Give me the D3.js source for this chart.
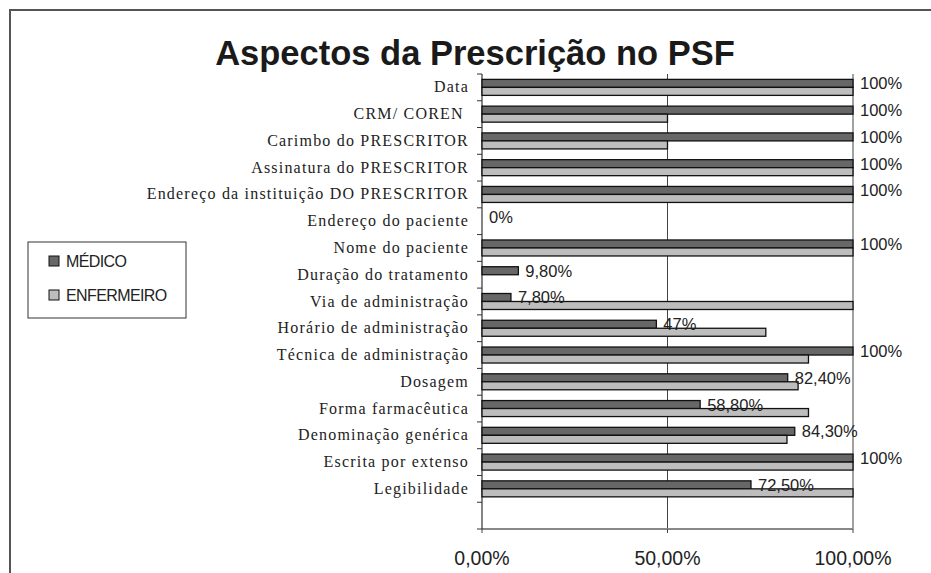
<!DOCTYPE html>
<html>
<head>
<meta charset="utf-8">
<script src="https://cdn.jsdelivr.net/npm/d3@7"></script>
<style>
  body { margin: 0; background: #fff; }
  .catLabel { font-family: "Liberation Serif", "Times New Roman", serif; font-size: 16px; letter-spacing: 1.2px; white-space: pre; fill: #222; }
  .valLabel { font-family: "Liberation Sans", Arial, sans-serif; font-size: 16.5px; fill: #222; }
  .xLabel { font-family: "Liberation Sans", Arial, sans-serif; font-size: 19.5px; fill: #222; }
  .legText { font-family: "Liberation Sans", Arial, sans-serif; font-size: 16px; letter-spacing: -0.6px; fill: #222; }
</style>
</head>
<body>
<div id="chart"></div>
<script>
// data (top to bottom)
var categories = [
  "Data", "CRM/ COREN ", "Carimbo do PRESCRITOR", "Assinatura do PRESCRITOR",
  "Endereço da instituição DO PRESCRITOR", "Endereço do paciente", "Nome do paciente",
  "Duração do tratamento", "Via de administração", "Horário de administração",
  "Técnica de administração", "Dosagem", "Forma farmacêutica",
  "Denominação genérica", "Escrita por extenso", "Legibilidade"
];
var series = ["MÉDICO", "ENFERMEIRO"];
var medico =     [100, 100, 100, 100, 100, 0, 100, 9.8, 7.8, 47, 100, 82.4, 58.8, 84.3, 100, 72.5];
var enfermeiro = [100, 50, 50, 100, 100, 0, 100, 0, 100, 76.5, 88, 85.2, 88, 82.2, 100, 100];
var xTicks = [0, 50, 100];

var width = 931;
var height = 573;

var svg = d3.select("#chart")
    .append("svg")
    .attr("width", width)
    .attr("height", height);

// outer frame
svg.append("rect")
    .attr("x", 10).attr("y", 10)
    .attr("width", width + 10).attr("height", height + 10)
    .attr("fill", "none")
    .attr("stroke", "#555")
    .attr("stroke-width", 2);

svg.append("text")
    .attr("x", 475).attr("y", 65)
    .attr("text-anchor", "middle")
    .style("font-family", '"Liberation Sans", Arial, sans-serif')
    .style("font-weight", "bold")
    .style("font-size", "34.5px")
    .style("fill", "#1a1a1a")
    .text("Aspectos da Prescrição no PSF");

var plotTop = 74;
var plotBottom = 529;
var slots = categories.length + 1;   // one empty slot under the last category
var step = (plotBottom - plotTop) / slots;

var x = d3.scaleLinear().domain([0, 100]).range([482, 853]);

var y = d3.scaleBand()
    .domain(categories)
    .range([plotTop, plotBottom - step])
    .padding(0);

var yInner = d3.scaleBand()
    .domain(series)
    .range([(step - 16) / 2, (step + 16) / 2]);

var colors = { "MÉDICO": "#676767", "ENFERMEIRO": "#bdbdbd" };

// vertical gridlines
svg.append("g").selectAll("line")
    .data(xTicks.slice(1))
    .join("line")
    .attr("x1", function(d) { return x(d); })
    .attr("x2", function(d) { return x(d); })
    .attr("y1", plotTop).attr("y2", plotBottom)
    .attr("stroke", "#444").attr("stroke-width", 1);

// x axis line + ticks
svg.append("line")
    .attr("x1", x(0)).attr("x2", x(100))
    .attr("y1", plotBottom).attr("y2", plotBottom)
    .attr("stroke", "#888").attr("stroke-width", 2);

svg.append("g").selectAll("line")
    .data(xTicks)
    .join("line")
    .attr("x1", function(d) { return x(d); })
    .attr("x2", function(d) { return x(d); })
    .attr("y1", plotBottom).attr("y2", plotBottom + 4)
    .attr("stroke", "#444").attr("stroke-width", 1);

svg.append("g").selectAll("text")
    .data(xTicks)
    .join("text")
    .attr("class", "xLabel")
    .attr("x", function(d) { return x(d); })
    .attr("y", 565)
    .attr("text-anchor", "middle")
    .text(function(d) { return d.toFixed(2).replace(".", ",") + "%"; });

// y axis line + ticks
svg.append("line")
    .attr("x1", x(0)).attr("x2", x(0))
    .attr("y1", plotTop).attr("y2", plotBottom)
    .attr("stroke", "#333").attr("stroke-width", 1.2);

svg.append("g").selectAll("line")
    .data(d3.range(slots + 1))
    .join("line")
    .attr("x1", x(0) - 5).attr("x2", x(0))
    .attr("y1", function(i) { return plotTop + i * step; })
    .attr("y2", function(i) { return plotTop + i * step; })
    .attr("stroke", "#333").attr("stroke-width", 1);

svg.append("g").selectAll("text")
    .data(categories)
    .join("text")
    .attr("class", "catLabel")
    .attr("x", 469)
    .attr("y", function(d) { return y(d) + step / 2 + 5; })
    .attr("text-anchor", "end")
    .text(function(d) { return d; });

// bars
var rows = categories.map(function(c, i) {
  return { cat: c, values: [
    { key: "MÉDICO", v: medico[i] },
    { key: "ENFERMEIRO", v: enfermeiro[i] }
  ]};
});

var groups = svg.append("g").selectAll("g")
    .data(rows)
    .join("g")
    .attr("transform", function(d) { return "translate(0," + y(d.cat) + ")"; });

groups.selectAll("rect")
    .data(function(d) { return d.values.filter(function(e) { return e.v > 0; }); })
    .join("rect")
    .attr("x", x(0))
    .attr("y", function(d) { return yInner(d.key); })
    .attr("width", function(d) { return x(d.v) - x(0); })
    .attr("height", yInner.bandwidth())
    .attr("fill", function(d) { return colors[d.key]; })
    .attr("stroke", "#111")
    .attr("stroke-width", 1.3);

// value labels for MÉDICO
function fmt(v) {
  return (v % 1 === 0 ? v : v.toFixed(2).replace(".", ",")) + "%";
}

groups.append("text")
    .attr("class", "valLabel")
    .attr("x", function(d, i) { return x(medico[i]) + 7; })
    .attr("y", yInner("MÉDICO") + yInner.bandwidth() / 2)
    .attr("dominant-baseline", "central")
    .text(function(d, i) { return fmt(medico[i]); });

// legend
var legend = svg.append("g");
legend.append("rect")
    .attr("x", 28).attr("y", 242)
    .attr("width", 158).attr("height", 76)
    .attr("fill", "#fff")
    .attr("stroke", "#333").attr("stroke-width", 1);

var legItems = legend.selectAll("g")
    .data(series)
    .join("g")
    .attr("transform", function(d, i) { return "translate(49," + (256 + i * 34) + ")"; });

legItems.append("rect")
    .attr("width", 10).attr("height", 10)
    .attr("fill", function(d) { return colors[d]; })
    .attr("stroke", "#111").attr("stroke-width", 1);

legItems.append("text")
    .attr("class", "legText")
    .attr("x", 17).attr("y", 5)
    .attr("dominant-baseline", "central")
    .text(function(d) { return d; });
</script>
</body>
</html>
